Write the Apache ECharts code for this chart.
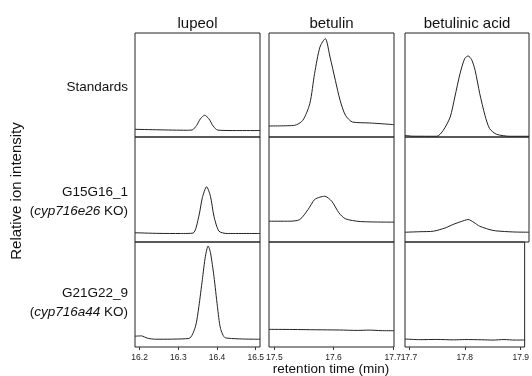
<!DOCTYPE html>
<html>
<head>
<meta charset="utf-8">
<script src="https://cdn.jsdelivr.net/npm/echarts@6/dist/echarts.min.js"></script>
<style>
  html, body { margin: 0; padding: 0; background: #fff; }
  #chart { width: 532px; height: 376px; }
</style>
</head>
<body>
<div id="chart"></div>
<script>
// compounds (columns) and samples (rows)
const compounds = ['lupeol', 'betulin', 'betulinic acid'];
const samples = [
  ['Standards'],
  ['G15G16_1', 'cyp716e26'],
  ['G21G22_9', 'cyp716a44']
];

// retention time window and tick labels per column
const xMin = [16.188, 17.491, 17.693];
const xMax = [16.511, 17.702, 17.907];
const xTicks = [
  [16.2, 16.3, 16.4, 16.5],
  [17.5, 17.6, 17.7],
  [17.7, 17.8, 17.9]
];

// traces: [retention time, relative intensity]
const lupeolStd = [[16.188, 0.074], [16.25, 0.069], [16.32, 0.065], [16.336, 0.068], [16.347, 0.11], [16.357, 0.175], [16.368, 0.209], [16.379, 0.175], [16.39, 0.105], [16.402, 0.066], [16.45, 0.062], [16.511, 0.062]];
const betulinStd = [[17.491, 0.106], [17.534, 0.112], [17.548, 0.16], [17.56, 0.324], [17.568, 0.612], [17.577, 0.865], [17.586, 0.946], [17.594, 0.769], [17.603, 0.545], [17.611, 0.353], [17.62, 0.209], [17.632, 0.144], [17.661, 0.135], [17.702, 0.119]];
const betulinicStd = [[17.693, 0.016], [17.705, 0.008], [17.748, 0.007], [17.759, 0.064], [17.771, 0.192], [17.779, 0.385], [17.788, 0.61], [17.796, 0.754], [17.802, 0.779], [17.808, 0.744], [17.814, 0.641], [17.822, 0.417], [17.831, 0.209], [17.839, 0.081], [17.851, 0.026], [17.874, 0.007], [17.907, 0.007]];

const lupeolG15 = [[16.188, 0.088], [16.25, 0.082], [16.305, 0.081], [16.338, 0.085], [16.353, 0.246], [16.362, 0.421], [16.373, 0.526], [16.383, 0.436], [16.392, 0.246], [16.405, 0.103], [16.426, 0.081], [16.511, 0.081]];
const betulinG15 = [[17.491, 0.198], [17.526, 0.198], [17.543, 0.214], [17.557, 0.31], [17.568, 0.405], [17.577, 0.427], [17.585, 0.436], [17.597, 0.388], [17.609, 0.278], [17.62, 0.221], [17.645, 0.195], [17.702, 0.189]];
const betulinicG15 = [[17.693, 0.093], [17.719, 0.098], [17.742, 0.103], [17.762, 0.133], [17.776, 0.167], [17.79, 0.195], [17.802, 0.214], [17.812, 0.186], [17.822, 0.15], [17.845, 0.11], [17.865, 0.1], [17.883, 0.095], [17.907, 0.093]];

const lupeolG21 = [[16.188, 0.103], [16.204, 0.106], [16.22, 0.084], [16.241, 0.074], [16.327, 0.081], [16.344, 0.192], [16.353, 0.385], [16.362, 0.641], [16.37, 0.865], [16.377, 0.962], [16.383, 0.898], [16.392, 0.673], [16.401, 0.385], [16.409, 0.177], [16.422, 0.087], [16.511, 0.074]];
const betulinG21 = [[17.491, 0.168], [17.53, 0.167], [17.57, 0.164], [17.61, 0.162], [17.64, 0.158], [17.66, 0.161], [17.68, 0.156], [17.702, 0.155]];
const betulinicG21 = [[17.693, 0.076], [17.72, 0.07], [17.75, 0.072], [17.78, 0.068], [17.8, 0.071], [17.83, 0.069], [17.85, 0.066], [17.87, 0.071], [17.89, 0.066], [17.907, 0.067]];

const traces = [
  [lupeolStd, betulinStd, betulinicStd],
  [lupeolG15, betulinG15, betulinicG15],
  [lupeolG21, betulinG21, betulinicG21]
];

const FONT = 'Liberation Sans, Arial, Helvetica, sans-serif';
const colLeft = [135, 269, 405];
const colWidth = [125, 125, 124];
const rowTop = [33, 137, 242];
const rowHeight = [104, 105, 105];

const chart = echarts.init(document.getElementById('chart'));

const grid = [], xAxis = [], yAxis = [], series = [];
for (let r = 0; r < 3; r++) {
  for (let c = 0; c < 3; c++) {
    const i = r * 3 + c;
    const bottomRow = r === 2;
    grid.push({
      left: colLeft[c], top: rowTop[r], width: colWidth[c], height: rowHeight[r],
      show: true, borderColor: '#222', borderWidth: 1
    });
    xAxis.push({
      type: 'value', gridIndex: i, min: xMin[c], max: xMax[c],
      axisLine: { show: false },
      splitLine: { show: false },
      axisTick: {
        show: bottomRow, length: 3, customValues: xTicks[c],
        lineStyle: { color: '#333' }
      },
      axisLabel: {
        show: bottomRow, customValues: xTicks[c], margin: 6,
        fontSize: 8.5, color: '#222', fontFamily: FONT,
        formatter: v => v.toFixed(1)
      }
    });
    yAxis.push({
      type: 'value', gridIndex: i, min: 0, max: 1, show: false
    });
    series.push({
      type: 'line', xAxisIndex: i, yAxisIndex: i,
      data: traces[r][c], showSymbol: false, smooth: 0.25,
      lineStyle: { color: '#222', width: 1 },
      silent: true, animation: false
    });
  }
}

// column titles, row labels and axis names
const graphic = [];
compounds.forEach((name, c) => {
  graphic.push({
    type: 'text', x: colLeft[c] + colWidth[c] / 2, y: 24,
    style: {
      text: name, fill: '#111', font: '15px ' + FONT,
      textAlign: 'center', textVerticalAlign: 'middle'
    }
  });
});
const rowLabelY = [87, 201.5, 303];
samples.forEach((s, r) => {
  const text = s.length > 1
    ? '{n|' + s[0] + '}\n{n|(}{i|' + s[1] + '}{n| KO)}'
    : '{n|' + s[0] + '}';
  graphic.push({
    type: 'text', x: 128, y: rowLabelY[r],
    style: {
      text: text, textAlign: 'right', textVerticalAlign: 'middle',
      rich: {
        n: { fontSize: 13.5, fontFamily: FONT, fill: '#111', lineHeight: 19 },
        i: { fontSize: 13.5, fontFamily: FONT, fontStyle: 'italic', fill: '#111', lineHeight: 19 }
      }
    }
  });
});
graphic.push({
  type: 'text', x: 17, y: 191, rotation: Math.PI / 2,
  style: {
    text: 'Relative ion intensity', fill: '#111', font: '15px ' + FONT,
    textAlign: 'center', textVerticalAlign: 'middle'
  }
});
graphic.push({
  type: 'text', x: 331, y: 369,
  style: {
    text: 'retention time (min)', fill: '#111', font: '13.5px ' + FONT,
    textAlign: 'center', textVerticalAlign: 'middle'
  }
});

chart.setOption({
  backgroundColor: '#fff',
  animation: false,
  grid: grid,
  xAxis: xAxis,
  yAxis: yAxis,
  series: series,
  graphic: graphic
});
</script>
</body>
</html>
